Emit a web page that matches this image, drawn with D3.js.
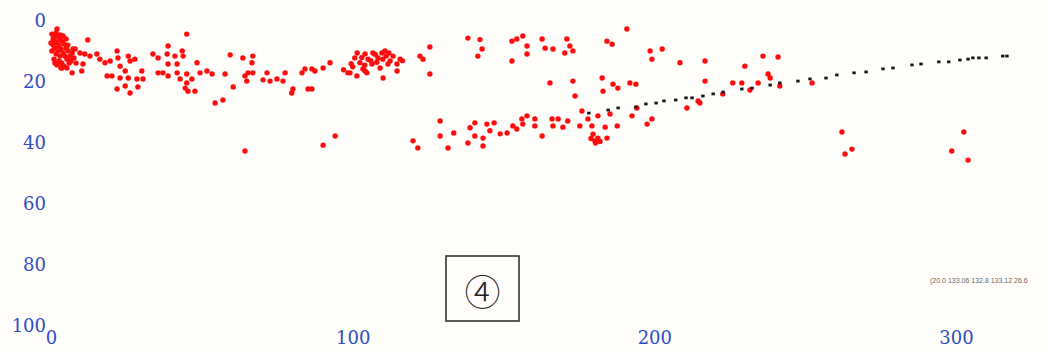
<!DOCTYPE html>
<html>
<head>
<meta charset="utf-8">
<script src="https://cdn.jsdelivr.net/npm/d3@7"></script>
<style>
  html, body { margin: 0; padding: 0; background: #fffefb; }
  svg { display: block; }
</style>
</head>
<body>
<div id="chart"></div>
<script>
// tick labels
const xTicks = [0, 100, 200, 300];
const yTicks = [0, 20, 40, 60, 80, 100];

// red scatter [x, y]
const redPoints = [
  [0.3, 4.3], [1.0, 4.9], [1.7, 3.9], [0.7, 5.9], [1.3, 6.6], [2.3, 5.2], [3.0, 4.6], [2.0, 7.2],
  [2.7, 8.2], [3.6, 6.6], [4.3, 7.5], [3.3, 9.2], [1.3, 8.9], [0.7, 7.9], [2.3, 9.8], [4.0, 10.5],
  [5.0, 8.9], [5.6, 9.8], [4.6, 11.5], [3.0, 11.5], [1.7, 10.8], [1.0, 12.5], [2.7, 13.1], [3.6, 13.8],
  [5.3, 12.5], [6.3, 11.5], [7.0, 10.5], [6.0, 13.8], [4.3, 14.8], [2.0, 14.4], [0.3, 9.8], [0, 7.2],
  [6.6, 13.1], [7.6, 12.1], [8.3, 13.8], [5.0, 5.9], [3.0, 5.9], [2.0, 2.6], [4.0, 4.9], [5.6, 7.9],
  [7.3, 9.2], [1.3, 13.8], [3.3, 15.4], [5.3, 15.4],
  [12.2, 6.2], [45.0, 4.3], [8.0, 9.2], [9.6, 10.5], [11.2, 10.8], [12.9, 11.5], [15.2, 10.8], [16.2, 12.5],
  [17.9, 13.7], [19.6, 13.1], [21.9, 9.8], [22.2, 12.1], [25.6, 11.5], [26.2, 13.1], [27.8, 12.5], [22.9, 14.8],
  [20.2, 18], [22.9, 18.7], [25.6, 18.7], [28.5, 19], [30.1, 16.4], [30.5, 19], [21.9, 22.3], [24.6, 21.3],
  [26.2, 23.6], [28.8, 21.6], [24.6, 16.4], [18.6, 18], [7.0, 17], [10.2, 16.4], [10.6, 14.1], [3.7, 15.4],
  [33.8, 10.8], [35.5, 12.1], [38.8, 8.2], [38.5, 10.8], [41.1, 11.5], [43.5, 9.8], [43.8, 11.5], [38.8, 14.1],
  [41.8, 14.1], [48.4, 13.7], [35.5, 17], [37.1, 17], [38.8, 18], [41.8, 17], [42.8, 19], [45.0, 17.4],
  [45.0, 20.3], [44.5, 22], [45.4, 23], [47.7, 23], [46.7, 19], [49.4, 17], [51.7, 16.4], [53.4, 17.4],
  [54.4, 26.9], [57.0, 25.9], [60.4, 21.6], [64.3, 18], [65.3, 17], [64.9, 19.7], [66.9, 17], [63.6, 12.1],
  [66.9, 11.5], [66.6, 13.7], [70.3, 19.3], [71.6, 17], [72.6, 19.7], [74.9, 19], [77.6, 17], [76.9, 19.7],
  [80.2, 22.3], [83.2, 17], [84.2, 15.7], [86.5, 15.7], [87.5, 16.4], [85.2, 22.3], [86.5, 22.3], [90.2, 15.4],
  [92.5, 13.7], [98.4, 17], [64.3, 42.6], [90.2, 40.7], [94.2, 37.7], [59.4, 11.1], [57.7, 17.4], [79.8, 23.6],
  [100.7, 12.1], [102.4, 13.7], [104.1, 10.8], [105.1, 12.5], [106.7, 10.5], [108.4, 12.1], [109.7, 10.5], [111.1, 11.5],
  [112.4, 13.1], [113.4, 11.5], [114.7, 14.1], [115.7, 12.5], [103.4, 15.7], [104.7, 17], [101.4, 18], [110.1, 18.7],
  [114.7, 16.4], [99.1, 17], [106.4, 14.1], [109.1, 15.4], [111.7, 14.1], [110.7, 9.8], [101.5, 10.5], [103, 12],
  [106, 13], [107.5, 11], [110, 12.5], [112, 10.5], [104, 14.5], [108, 13.5], [116.5, 13], [100, 15],
  [97, 16], [99.5, 14], [104.1, 16.4],
  [122.3, 11.5], [123.3, 12.5], [125.6, 8.5], [125.6, 17.4], [129.0, 32.8], [129.0, 37.7], [120.0, 39.3], [121.6, 41.6],
  [131.6, 41.6], [138.2, 5.6], [142.2, 6.1], [141.5, 11.5], [142.9, 9.2], [152.8, 6.6], [154.4, 5.9], [156.4, 4.9],
  [152.8, 13.1], [157.8, 8.2], [157.8, 10.8], [162.8, 5.9], [163.8, 8.9], [166.4, 9.2], [170.3, 10.5], [171.0, 5.9],
  [172.0, 8.2], [173.0, 9.8], [184.3, 6.6], [186.0, 7.6], [190.9, 2.6], [198.6, 9.8], [199.2, 12.5], [202.6, 9.2],
  [208.5, 13.7], [165.4, 20.3], [173.0, 19.7], [173.7, 24.6], [182.7, 18.7], [183.0, 23], [186.3, 20.7], [187.9, 22],
  [191.9, 20.3], [193.9, 20.7],
  [133.5, 36.7], [138.9, 35], [140.5, 33.4], [140.5, 37.7], [138.2, 40], [143.2, 38.4], [143.2, 41], [144.5, 33.8],
  [145.5, 36], [146.9, 33.4], [148.9, 37], [151.2, 36.7], [153.1, 34.4], [154.4, 35.4], [156.4, 33.8], [156.1, 32.1],
  [157.8, 31.1], [160.4, 32.1], [160.4, 34.4], [162.8, 37.7], [166.1, 32.1], [166.4, 34.4], [168.1, 32.1], [169.7, 34.8],
  [171.3, 32.8], [175.3, 34.4], [176.0, 29.5], [178.0, 32.1], [179.3, 34.4], [179.7, 37.1], [180.3, 39.3], [181.3, 38.4],
  [181.3, 31.1], [183.7, 34.8], [184.3, 38.4], [185.3, 30.5], [187.7, 34.4], [192.6, 31.1], [194.2, 28.5], [197.6, 33.8],
  [199.2, 32.1], [210.8, 28.5], [214.5, 26.2], [179, 38.5], [180.5, 40], [182, 39.5],
  [216.8, 13.1], [216.8, 19.7], [215.1, 26.9], [222.7, 23.9], [226.0, 20.3], [229.0, 20.3], [230.0, 14.8], [231.7, 22.6],
  [234.4, 20.3], [236.0, 11.5], [241.0, 11.8], [237.7, 17.4], [238.4, 18.7], [241.6, 21.3], [252.3, 20.3], [262.2, 36.4],
  [263.2, 43.6], [265.5, 42], [298.6, 42.6], [302.6, 36.4], [304.0, 45.6]
];

// black dotted series [x, y]
const blackPoints = [
  [178.3, 30.2], [184.7, 29.2], [188.0, 28.5], [193.9, 28.2], [197.2, 27.2], [200.6, 26.9], [203.2, 26.2], [207.1, 25.9],
  [210.5, 25.2], [212.5, 25.2], [216.1, 24.6], [219.5, 23.9], [222.8, 23.3], [229.0, 22.3], [232.4, 22], [238.4, 21],
  [241.6, 20.3], [247.6, 19.7], [251.6, 19], [256.9, 18.7], [260.5, 17.7], [266.2, 17], [270.2, 16.7], [275.8, 15.7],
  [279.1, 15.4], [285.4, 14.4], [288.4, 14.1], [294.3, 13.4], [297.6, 13.4], [301.3, 12.8], [304.0, 12.5], [305.6, 12.1],
  [307.6, 12.1], [310.0, 12.1], [315.5, 11.5], [316.9, 11.5]
];

const panelLabel = '④';
const footNote = '(20.0 133.06  132.8 133.12 26.6';

const width = 1048;
const height = 350;

const svg = d3.select('#chart')
  .append('svg')
  .attr('width', width)
  .attr('height', height);

svg.append('rect')
  .attr('width', width)
  .attr('height', height)
  .attr('fill', '#fffefb');

const xScale = d3.scaleLinear().domain([0, 300]).range([51, 956]);
const yScale = d3.scaleLinear().domain([0, 100]).range([21, 326]);

// y axis, labels only
const yAxis = svg.append('g')
  .attr('transform', 'translate(46,0)')
  .call(d3.axisLeft(yScale).tickValues(yTicks).tickSize(0).tickPadding(0));
yAxis.select('.domain').remove();
yAxis.selectAll('text')
  .attr('font-family', '"DejaVu Serif", serif')
  .attr('font-size', 18)
  .attr('fill', '#2f4cc4');

// x axis, labels only
const xAxis = svg.append('g')
  .attr('transform', 'translate(0,331)')
  .call(d3.axisBottom(xScale).tickValues(xTicks).tickSize(0).tickPadding(0));
xAxis.select('.domain').remove();
xAxis.selectAll('text')
  .attr('font-family', '"DejaVu Serif", serif')
  .attr('font-size', 18)
  .attr('fill', '#2f4cc4');

// red points
svg.append('g')
  .selectAll('circle')
  .data(redPoints)
  .join('circle')
  .attr('cx', d => xScale(d[0]))
  .attr('cy', d => yScale(d[1]))
  .attr('r', 2.7)
  .attr('fill', '#ff0d0d');

// black points
svg.append('g')
  .selectAll('rect')
  .data(blackPoints)
  .join('rect')
  .attr('x', d => xScale(d[0]) - 1.7)
  .attr('y', d => yScale(d[1]) - 1.4)
  .attr('width', 3.4)
  .attr('height', 2.8)
  .attr('fill', '#161616');

// panel label box
svg.append('rect')
  .attr('x', 446)
  .attr('y', 256)
  .attr('width', 73)
  .attr('height', 65)
  .attr('fill', 'none')
  .attr('stroke', '#333')
  .attr('stroke-width', 1.6);

svg.append('text')
  .attr('x', 482.5)
  .attr('y', 290)
  .attr('text-anchor', 'middle')
  .attr('dominant-baseline', 'central')
  .attr('font-family', '"Noto Sans CJK JP", sans-serif')
  .attr('font-size', 36)
  .attr('font-weight', 300)
  .attr('fill', '#222')
  .text(panelLabel);

// tiny note at the right edge
svg.append('text')
  .attr('x', 930)
  .attr('y', 283)
  .attr('font-family', '"Liberation Sans", sans-serif')
  .attr('font-size', 7)
  .attr('fill', '#666')
  .text(footNote);
</script>
</body>
</html>
